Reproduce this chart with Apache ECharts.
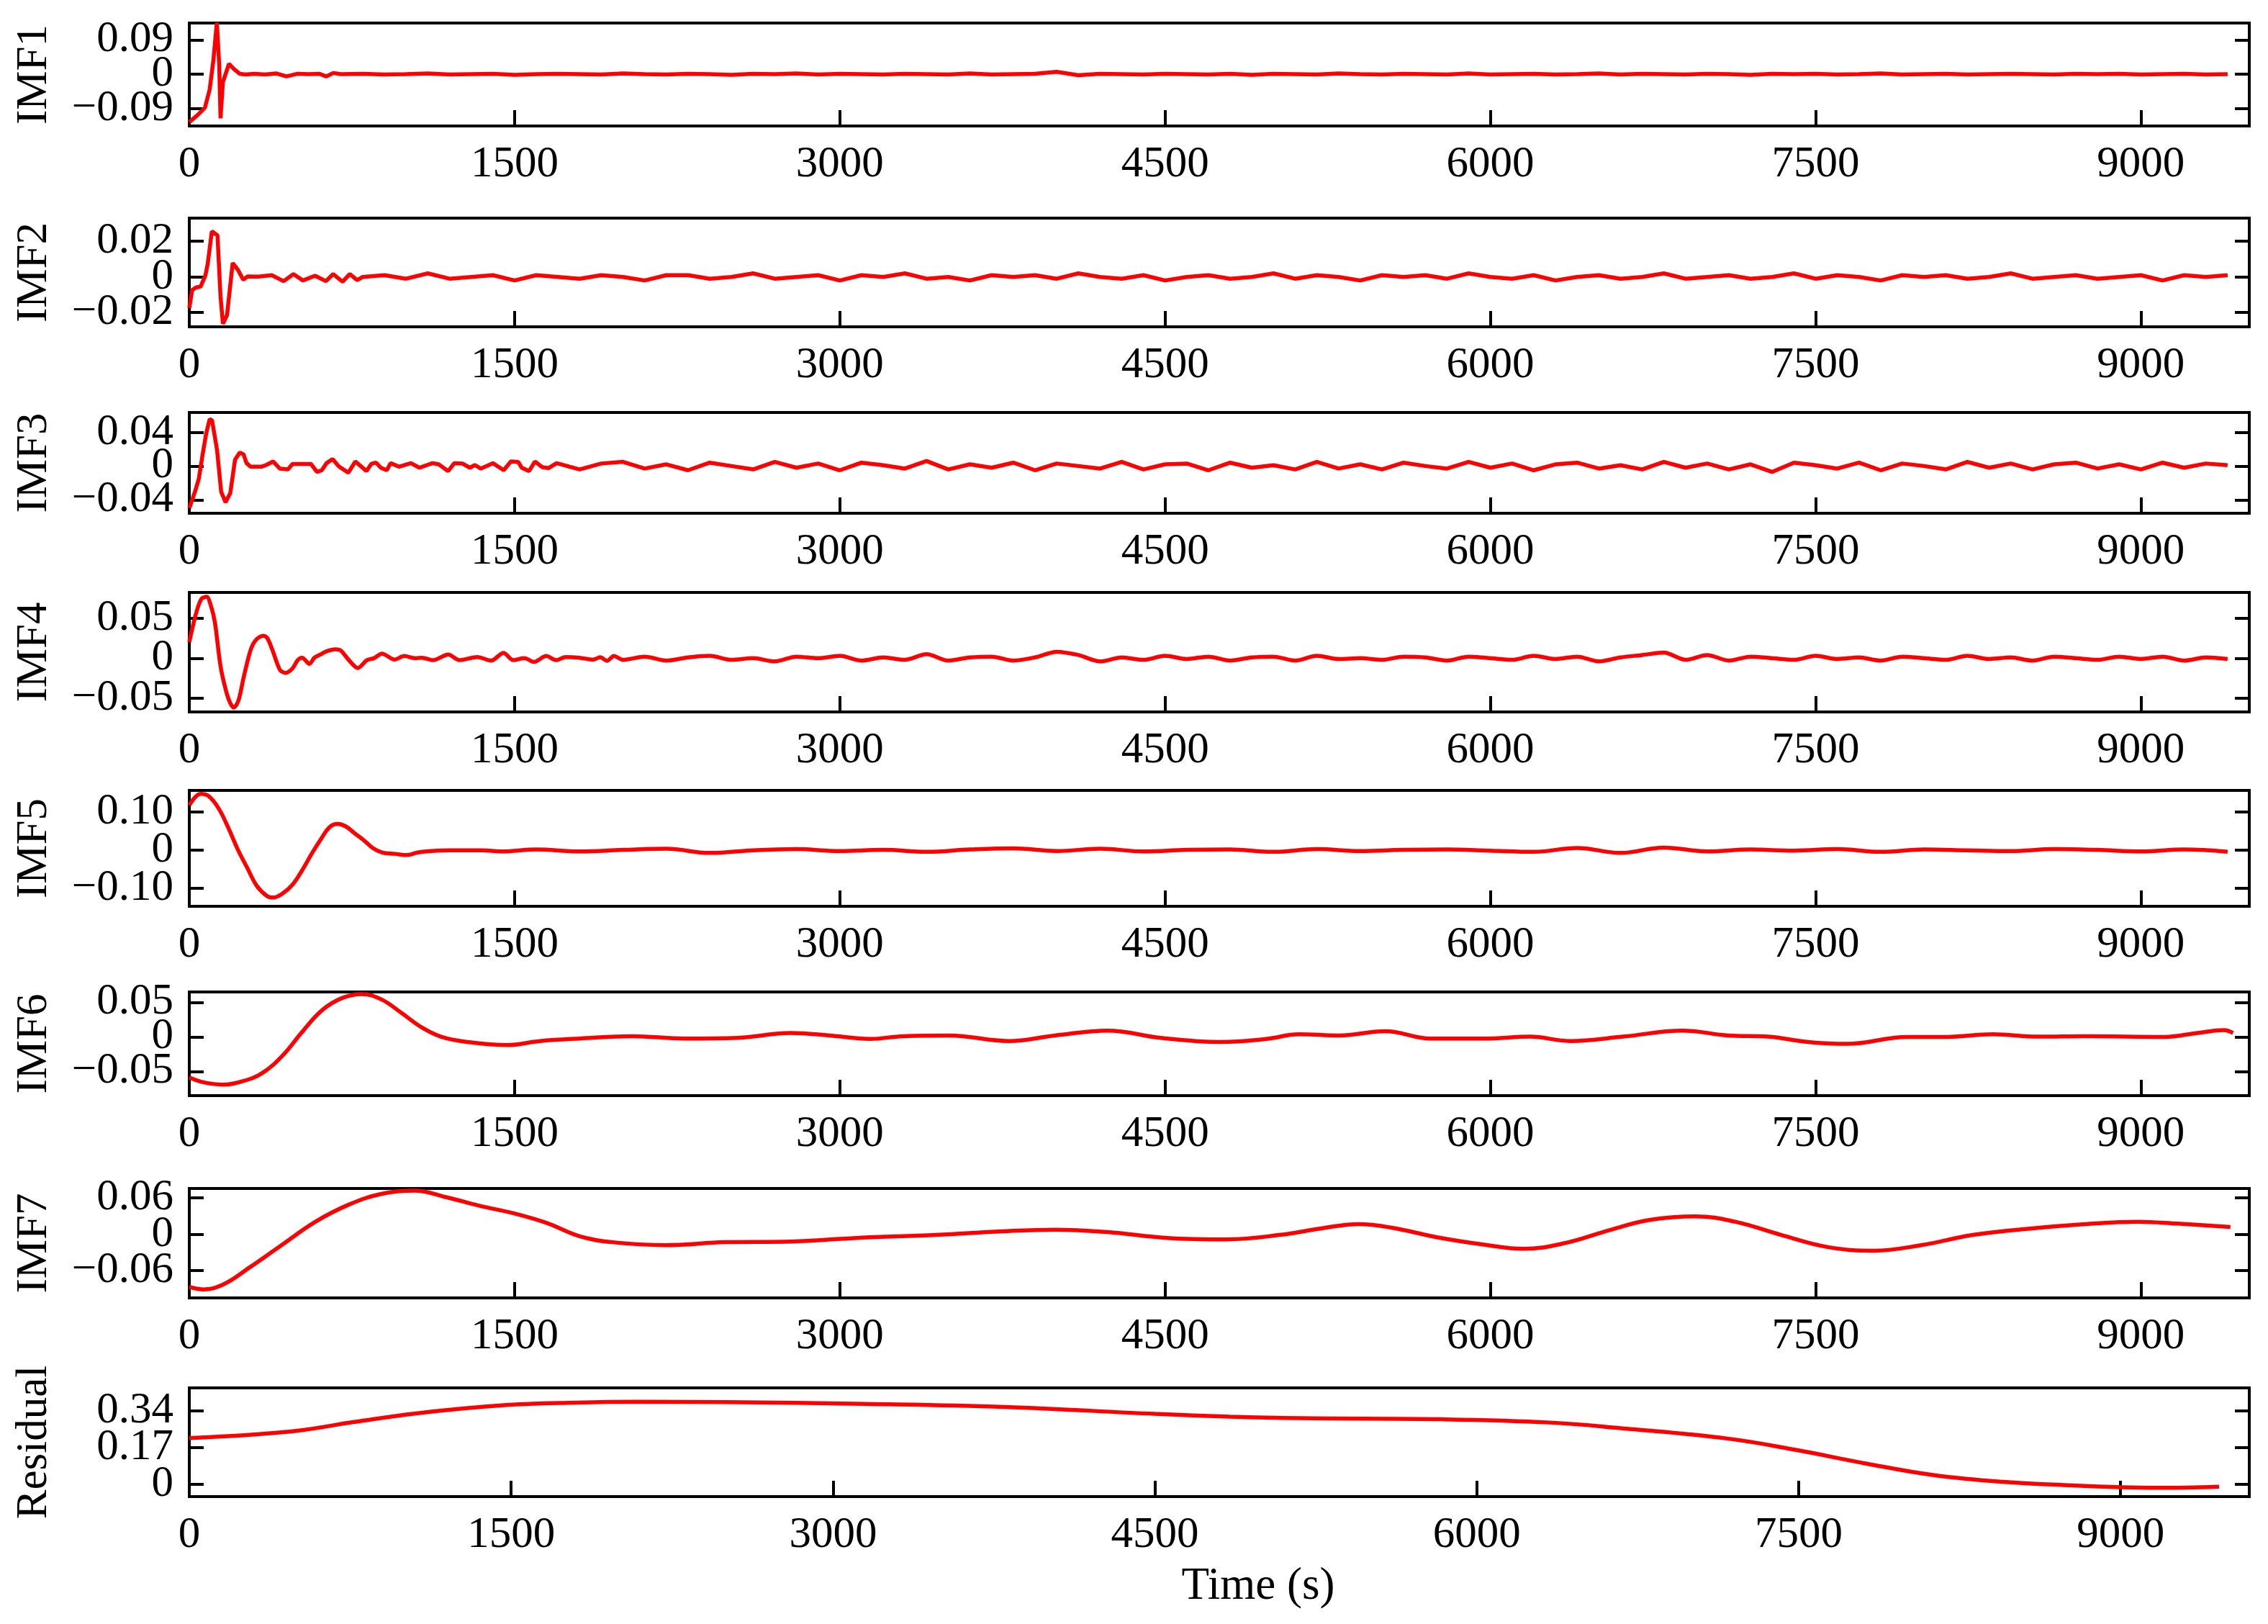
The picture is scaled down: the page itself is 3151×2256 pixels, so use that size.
<!DOCTYPE html>
<html>
<head>
<meta charset="utf-8">
<script src="https://cdn.jsdelivr.net/npm/echarts@6/dist/echarts.min.js"></script>
<style>
html,body{margin:0;padding:0;background:#fff;}
#chart{width:3151px;height:2256px;}
</style>
</head>
<body>
<div id="chart"></div>
<script>
// ---------------- DATA ----------------
const panelNames = ['IMF1','IMF2','IMF3','IMF4','IMF5','IMF6','IMF7','Residual'];
const xTickValues = [0,1500,3000,4500,6000,7500,9000];
const xMaxes = [9500,9500,9500,9500,9500,9500,9500,9600];
const yMins = [-0.136,-0.028,-0.056,-0.067,-0.147,-0.085,-0.105,-0.057];
const yMaxs = [0.134,0.033,0.0635,0.082,0.157,0.065,0.0755,0.445];
const yTicks = [
  [-0.09,0,0.09],
  [-0.02,0,0.02],
  [-0.04,0,0.04],
  [-0.05,0,0.05],
  [-0.10,0,0.10],
  [-0.05,0,0.05],
  [-0.06,0,0.06],
  [0,0.17,0.34]
];

// shared sample times (s) for the noisy tails
const tGrid100 = [800,900,1000,1100,1200,1300,1400,1500,1600,1700,1800,1900,2000,2100,2200,2300,2400,2500,2600,2700,2800,2900,3000,3100,3200,3300,3400,3500,3600,3700,3800,3900,4000,4100,4200,4300,4400,4500,4600,4700,4800,4900,5000,5100,5200,5300,5400,5500,5600,5700,5800,5900,6000,6100,6200,6300,6400,6500,6600,6700,6800,6900,7000,7100,7200,7300,7400,7500,7600,7700,7800,7900,8000,8100,8200,8300,8400,8500,8600,8700,8800,8900,9000,9100,9200,9300,9400];

// IMF1
const imf1EarlyT = [0,39,72,94,111,127,138,144,155,183,205,232,260,300,350,400,448,500,550,600,631,664,700];
const imf1EarlyV = [-0.126,-0.107,-0.088,-0.04,0.036,0.135,0.024,-0.116,-0.021,0.027,0.014,0.001,-0.001,0.001,-0.001,0.002,-0.006,0.001,0.0,0.001,-0.006,0.003,0.0];
const imf1LateV = [0.001,-0.001,0.000,0.002,-0.001,0.000,0.001,-0.002,0.000,0.001,
  0.000,-0.001,0.002,0.000,-0.001,0.001,0.000,-0.002,0.001,0.000,
  0.002,-0.001,0.001,0.000,-0.001,0.001,0.000,-0.001,0.002,-0.001,
  0.000,0.001,0.006,-0.003,0.001,0.000,-0.001,0.001,0.000,-0.001,
  0.001,-0.002,0.001,0.000,-0.001,0.002,0.000,-0.001,0.001,0.000,
  -0.001,0.002,-0.001,0.000,0.001,-0.001,0.000,0.002,-0.001,0.001,
  0.000,-0.001,0.001,0.000,-0.002,0.001,0.000,0.001,-0.001,0.000,
  0.002,-0.001,0.000,0.001,-0.001,0.000,0.001,0.000,-0.001,0.001,
  0.000,0.001,-0.001,0.000,0.001,-0.001,0.000];

// IMF2
const imf2EarlyT = [0,13,30,52,74,85,104,130,144,155,174,200,224,249,269,320,380,435,480,524,580,630,663,707,740,774];
const imf2EarlyV = [-0.0175,-0.0074,-0.006,-0.0054,0.0007,0.0074,0.0256,0.0233,-0.011,-0.0263,-0.0215,0.0078,0.004,-0.0016,0.0003,0.0002,0.001,-0.0024,0.0016,-0.002,0.0007,-0.0024,0.0016,-0.0027,0.0016,-0.0018];
const imf2LateV = [0.000,0.001,-0.001,0.002,-0.001,0.000,0.001,-0.002,0.001,0.000,
  -0.001,0.001,0.000,-0.002,0.001,0.001,-0.001,0.000,0.002,-0.001,
  0.000,0.001,-0.002,0.001,0.000,0.002,-0.001,0.000,-0.002,0.001,
  0.000,0.001,-0.001,0.002,0.000,-0.001,0.001,-0.002,0.000,0.001,
  -0.001,0.000,0.002,-0.001,0.001,0.000,-0.002,0.001,0.000,0.001,
  -0.001,0.002,0.000,-0.001,0.001,-0.002,0.000,0.001,-0.001,0.000,
  0.002,-0.001,0.000,0.001,-0.001,0.000,0.002,-0.001,0.001,0.000,
  -0.002,0.001,0.000,0.001,-0.001,0.000,0.002,-0.001,0.000,0.001,
  -0.001,0.000,0.001,-0.002,0.001,0.000,0.001];

// IMF3
const imf3EarlyT = [0,28,44,61,78,94,105,128,147,167,189,211,233,250,264,283,333,356,387,417,455,476,561,589,611,633,661,689,733,766,817,839,861,883,911,928,967,1022,1061,1122,1150,1194,1222,1261,1294,1317,1344,1400,1450,1483,1517,1533,1567,1594,1628,1656,1694];
const imf3EarlyV = [-0.05,-0.029,-0.015,0.013,0.0387,0.0557,0.054,0.019,-0.0305,-0.043,-0.032,0.0076,0.016,0.0139,0.0034,-0.0008,-0.0008,0.0014,0.0054,-0.003,-0.004,0.0025,0.0025,-0.007,-0.005,0.0034,0.0082,-0.0003,-0.0079,0.0054,-0.006,0.0025,0.004,-0.002,-0.005,0.0034,-0.0008,0.0034,-0.002,0.0034,0.002,-0.006,0.0034,0.0028,-0.002,0.0012,-0.003,0.0034,-0.005,0.0054,0.0048,-0.002,-0.006,0.0054,-0.0014,-0.0025,0.0034];
const imf3LateStart = 1800;
const imf3LateV = [-0.004,0.003,0.005,-0.003,0.002,-0.005,0.004,0.000,-0.004,0.005,
  -0.002,0.003,-0.005,0.004,0.001,-0.003,0.006,-0.004,0.002,-0.002,
  0.004,-0.005,0.003,0.000,-0.003,0.005,-0.004,0.002,0.003,-0.005,
  0.004,-0.002,0.001,-0.004,0.005,-0.003,0.002,-0.004,0.004,0.000,
  -0.003,0.005,-0.002,0.003,-0.005,0.002,0.004,-0.003,0.001,-0.004,
  0.005,-0.002,0.003,-0.004,0.002,-0.007,0.004,0.001,-0.003,0.004,
  -0.005,0.003,0.000,-0.004,0.005,-0.002,0.003,-0.004,0.002,0.004,
  -0.003,0.002,-0.004,0.004,-0.002,0.003,0.001];

// IMF4
const imf4EarlyT = [0,29,55,80,99,118,144,169,188,205,227,252,284,309,341,360,386,418,443,475,500,520,554,577,609,634,672,698,736,777,819,851,889,946,991,1042,1073,1124,1194,1245,1328,1392,1449,1494,1545,1589,1646,1691,1736,1799,1863,1895,1927,1958];
const imf4EarlyV = [0.02,0.0538,0.0736,0.0766,0.066,0.0448,-0.01,-0.0403,-0.0555,-0.0616,-0.0525,-0.0222,0.0112,0.0234,0.028,0.025,0.0082,-0.0146,-0.0182,-0.013,-0.0024,0.0006,-0.007,0.0006,0.0052,0.0088,0.0112,0.0097,-0.0024,-0.0122,-0.0024,0.0,0.0058,-0.0018,0.0027,0.0,0.0006,-0.0024,0.0046,-0.0024,0.0015,-0.003,0.0067,-0.0024,0.0,-0.0046,0.0027,-0.0024,0.0015,0.0006,-0.0018,0.0012,-0.0033,0.0027];
const imf4LateStart = 2000;
const imf4LateV = [-0.002,0.002,-0.003,0.001,0.003,-0.002,0.000,-0.004,0.002,0.000,
  0.003,-0.003,0.001,-0.002,0.005,-0.003,0.001,0.002,-0.003,0.001,
  0.008,0.004,-0.004,0.001,-0.002,0.003,-0.001,0.002,-0.003,0.001,
  0.002,-0.003,0.003,-0.001,0.000,-0.002,0.002,0.001,-0.003,0.002,
  0.000,-0.002,0.003,-0.001,0.002,-0.004,0.001,0.004,0.007,-0.002,
  0.004,-0.003,0.002,0.000,-0.002,0.003,-0.001,0.001,-0.003,0.002,
  0.000,-0.002,0.003,-0.001,0.001,-0.003,0.002,0.000,-0.002,0.002,
  -0.001,0.002,-0.003,0.001,-0.001];

// IMF5
const imf5T = [0,53,90,135,179,223,268,312,357,386,431,475,520,564,609,646,683,720,757,801,846,890,949,1001,1053,1112,1201,1350,1439,
  1600,1800,2000,2200,2400,2600,2800,3000,3200,3400,3600,3800,4000,4200,4400,4600,4800,5000,5200,5400,5600,5800,6000,6200,6400,6600,6800,7000,7200,7400,7600,7800,8000,8200,8400,8600,8800,9000,9200,9400];
const imf5V = [0.118,0.148,0.1415,0.11,0.06,0.003,-0.047,-0.094,-0.1195,-0.124,-0.113,-0.091,-0.053,-0.0094,0.031,0.06,0.069,0.063,0.047,0.028,0.006,-0.006,-0.0094,-0.0126,-0.006,-0.002,0.0,0.0,-0.003,
  0.002,-0.003,0.001,0.004,-0.007,0.000,0.003,-0.002,0.001,-0.004,
  0.002,0.005,-0.002,0.004,-0.003,0.001,0.002,-0.004,0.003,-0.002,
  0.001,0.002,-0.001,-0.004,0.006,-0.007,0.007,-0.003,0.002,-0.001,
  0.003,-0.004,0.002,0.000,-0.002,0.003,0.001,-0.003,0.002,-0.004];

// IMF6
const imf6T = [0,64,155,247,338,429,521,612,703,795,886,977,1069,1160,1282,1465,1617,1800,2043,2287,2530,2774,2956,3139,3291,3505,3779,3992,4235,4479,4753,4966,5118,5301,5514,5727,5971,6184,6367,6611,6885,7098,7281,7464,7647,7921,8104,8317,8530,8743,9109,9261,9383,9425];
const imf6V = [-0.0587,-0.0656,-0.069,-0.064,-0.052,-0.0274,0.0073,0.0385,0.056,0.062,0.0542,0.035,0.0142,0.0003,-0.0073,-0.0118,-0.006,-0.0024,0.001,-0.0024,-0.0014,0.0056,0.002,-0.003,0.001,0.002,-0.006,0.002,0.009,-0.0014,-0.0073,-0.003,0.0038,0.002,0.0083,-0.0024,-0.0024,0.0003,-0.006,0.0003,0.009,0.002,0.0003,-0.0073,-0.01,0.0,0.0,0.0038,0.0003,0.001,0.0,0.0056,0.0097,0.0056];

// IMF7
const imf7T = [0,64,155,277,429,582,734,886,1038,1190,1343,1495,1648,1800,1952,2196,2470,2774,3078,3444,3748,3992,4235,4509,4783,5027,5240,5392,5545,5758,5971,6154,6337,6550,6733,6946,7129,7342,7556,7769,7982,8225,8469,8743,8987,9170,9413];
const imf7V = [-0.0869,-0.0909,-0.083,-0.055,-0.0171,0.0207,0.0486,0.0666,0.0718,0.0606,0.0466,0.0347,0.0187,-0.0032,-0.0131,-0.0179,-0.0131,-0.012,-0.006,-0.0012,0.0048,0.0076,0.0036,-0.006,-0.0084,-0.0012,0.0108,0.0167,0.0108,-0.0052,-0.0171,-0.0239,-0.0151,0.0068,0.0235,0.0295,0.0207,-0.0012,-0.0211,-0.0271,-0.0183,-0.0012,0.0088,0.0167,0.0207,0.0175,0.012];

// Residual
const resT = [0,466,765,1064,1466,1800,2100,2500,3150,3800,4500,4850,5170,5840,6340,6680,7168,7490,7812,8131,8453,8775,9000,9177,9459];
const resV = [0.213,0.243,0.287,0.328,0.365,0.377,0.381,0.379,0.371,0.357,0.325,0.312,0.305,0.3,0.285,0.258,0.211,0.158,0.096,0.042,0.011,-0.0055,-0.014,-0.0166,-0.011];

// ---------------- BUILD ----------------
function zip(t, v) { return t.map((x, i) => [x, v[i]]); }
function tailTimes(start) { return tGrid100.slice(tGrid100.indexOf(start)); }

const seriesData = [
  zip(imf1EarlyT, imf1EarlyV).concat(zip(tGrid100, imf1LateV)),
  zip(imf2EarlyT, imf2EarlyV).concat(zip(tGrid100, imf2LateV)),
  zip(imf3EarlyT, imf3EarlyV).concat(zip(tailTimes(imf3LateStart), imf3LateV)),
  zip(imf4EarlyT, imf4EarlyV).concat(zip(tailTimes(imf4LateStart), imf4LateV)),
  zip(imf5T, imf5V),
  zip(imf6T, imf6V),
  zip(imf7T, imf7V),
  zip(resT, resV)
];
const smoothFlags = [false,false,false,0.3,0.4,0.4,0.4,0.4];

const FONT = "'Liberation Serif','Times New Roman',serif";
const gridBoxes = [
  {top:32,height:143},{top:303,height:151},{top:573,height:140},{top:823,height:166},
  {top:1098,height:161},{top:1378,height:144},{top:1651,height:152},{top:1928,height:151}
];

function fmtY(v) {
  if (Math.abs(v) < 1e-12) return '0';
  return (v < 0 ? '\u2212' : '') + Math.abs(v).toFixed(2);
}

const grid = [], xAxis = [], yAxis = [], series = [];
gridBoxes.forEach((g, i) => {
  grid.push({left:263, right:26, top:g.top, height:g.height, show:true, borderColor:'#000', borderWidth:4, backgroundColor:'transparent', containLabel:false});
  xAxis.push({
    type:'value', gridIndex:i, min:0, max:xMaxes[i], position:'bottom',
    axisLine:{show:false, onZero:false},
    splitLine:{show:false},
    axisTick:{show:true, inside:true, length:22, lineStyle:{color:'#000', width:4}, customValues:xTickValues},
    axisLabel:{show:true, customValues:xTickValues, showMinLabel:true, showMaxLabel:true, fontFamily:FONT, fontSize:61, color:'#000', margin:23,
      formatter: v => String(v)}
  });
  const ticks = yTicks[i];
  const outer = [ticks[0], ticks[2]];   // labelled on one axis
  const inner = [ticks[1]];             // middle label on a twin axis (avoids overlap hiding)
  const yCommon = {
    type:'value', gridIndex:i, min:yMins[i], max:yMaxs[i],
    splitLine:{show:false}, axisLine:{show:false, onZero:false}
  };
  const labelStyle = {fontFamily:FONT, fontSize:61, color:'#000', margin:22, formatter:fmtY};
  yAxis.push(Object.assign({}, yCommon, {
    position:'left', offset:0,
    name: panelNames[i], nameLocation:'middle', nameGap:185,
    nameTextStyle:{fontFamily:FONT, fontSize:61, color:'#000'},
    axisTick:{show:true, inside:true, length:20, lineStyle:{color:'#000', width:4}, customValues:ticks},
    axisLabel:Object.assign({show:true, customValues:outer, showMinLabel:true, showMaxLabel:true}, labelStyle)
  }));
  yAxis.push(Object.assign({}, yCommon, {
    position:'left', offset:0,
    axisTick:{show:false},
    axisLabel:Object.assign({show:true, customValues:inner, showMinLabel:true, showMaxLabel:true}, labelStyle)
  }));
  yAxis.push(Object.assign({}, yCommon, {
    position:'right',
    axisTick:{show:true, inside:true, length:20, lineStyle:{color:'#000', width:4}, customValues:ticks},
    axisLabel:{show:false}
  }));
  series.push({
    type:'line', xAxisIndex:i, yAxisIndex:3*i, data:seriesData[i],
    showSymbol:false, smooth:smoothFlags[i], clip:true,
    lineStyle:{color:'#ff0000', width:5.5}, silent:true, animation:false
  });
});

const chart = echarts.init(document.getElementById('chart'), null, {renderer:'canvas'});
chart.setOption({
  backgroundColor:'#fff',
  animation:false,
  grid, xAxis, yAxis, series,
  graphic:[{
    type:'text', x:1748, y:2204,
    style:{text:'Time (s)', font:"63px 'Liberation Serif','Times New Roman',serif", fill:'#000', textAlign:'center', textVerticalAlign:'middle'}
  }]
});
</script>
</body>
</html>
